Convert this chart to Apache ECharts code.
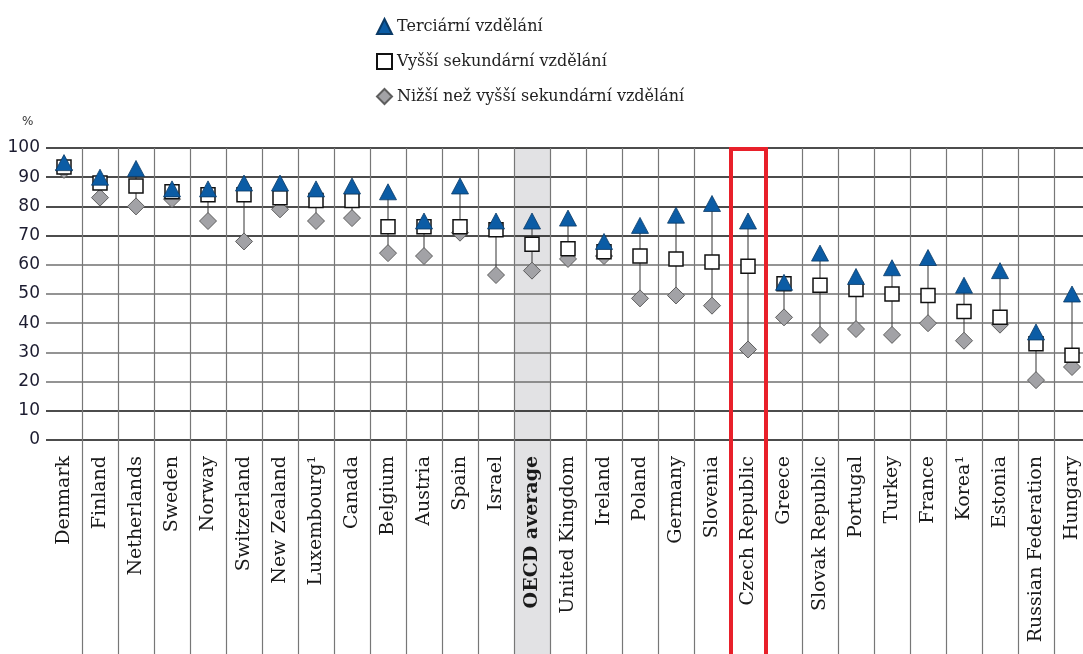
<!DOCTYPE html>
<html>
<head>
<meta charset="utf-8">
<script src="https://cdn.jsdelivr.net/npm/echarts@6/dist/echarts.min.js"></script>
<style>
html,body{margin:0;padding:0;background:#fff;overflow:hidden;width:1083px;height:654px;}
#chart{width:1090px;height:654px;}
</style>
</head>
<body>
<div id="chart"></div>
<script>
const categories = ['Denmark','Finland','Netherlands','Sweden','Norway','Switzerland','New Zealand','Luxembourg¹','Canada','Belgium','Austria','Spain','Israel','OECD average','United Kingdom','Ireland','Poland','Germany','Slovenia','Czech Republic','Greece','Slovak Republic','Portugal','Turkey','France','Korea¹','Estonia','Russian Federation','Hungary'];
const tertiary   = [95, 90, 93, 86, 86, 88, 88, 86, 87, 85, 75, 87, 75, 75, 76, 68, 73.5, 77, 81, 75, 54, 64, 56, 59, 62.5, 53, 58, 37, 50];
const upperSec   = [93.5, 88, 87, 85, 84, 84, 83, 82, 82, 73, 73, 73, 72, 67, 65.5, 64.5, 63, 62, 61, 59.5, 53.5, 53, 51.5, 50, 49.5, 44, 42, 33, 29];
const belowUpper = [92.5, 83, 80, 82.5, 75, 68, 79, 75, 76, 64, 63, 71, 56.5, 58, 62, 63, 48.5, 49.5, 46, 31, 42, 36, 38, 36, 40, 34, 39.5, 20.5, 25];
const yTicks = [0, 10, 20, 30, 40, 50, 60, 70, 80, 90, 100];
const seriesNames = ['Terciární vzdělání', 'Vyšší sekundární vzdělání', 'Nižší než vyšší sekundární vzdělání'];
const averageName = 'OECD average';
const highlightName = 'Czech Republic';

const avgIdx = categories.indexOf(averageName);
const hiIdx = categories.indexOf(highlightName);
const stems = categories.map((c, i) => {
  const vals = [tertiary[i], upperSec[i], belowUpper[i]];
  return [i, Math.max.apply(null, vals), Math.min.apply(null, vals)];
});

const chart = echarts.init(document.getElementById('chart'), null, {renderer: 'canvas'});
const gridLineColors = yTicks.map(v => (v <= 10 || v >= 70) ? '#111' : '#707070');
const skipFirst = function (i) { return i !== 0; };

chart.setOption({
  animation: false,
  backgroundColor: '#fff',
  title: {
    text: '%', left: 17, top: 111,
    textStyle: {fontSize: 12, fontWeight: 'normal', color: '#333', fontFamily: 'DejaVu Sans'}
  },
  legend: {
    orient: 'vertical', left: 371, top: 13, itemGap: 18,
    itemWidth: 15, itemHeight: 15,
    textStyle: {fontFamily: 'DejaVu Serif', fontSize: 16, color: '#222'},
    data: seriesNames
  },
  grid: {left: 46, top: 148, right: 0, height: 292, containLabel: false},
  xAxis: {
    type: 'category',
    data: categories.map(c => c === averageName ? {value: c, textStyle: {fontWeight: 'bold'}} : c),
    axisLine: {show: false},
    axisTick: {show: true, length: 220, interval: skipFirst, lineStyle: {color: '#777', width: 1.2}},
    splitLine: {show: true, interval: skipFirst, lineStyle: {color: '#777', width: 1.2}},
    axisLabel: {interval: 0, rotate: 90, margin: 16, fontFamily: 'DejaVu Serif', fontSize: 19, color: '#1a1a1a'}
  },
  yAxis: {
    type: 'value', min: 0, max: 100, interval: 10,
    axisLine: {show: false}, axisTick: {show: false},
    axisLabel: {margin: 6, fontFamily: 'DejaVu Sans', fontSize: 17, color: '#1c1c30'},
    splitLine: {show: true, lineStyle: {color: gridLineColors, width: 1.6}}
  },
  series: [
    {
      type: 'custom', z: -1, silent: true,
      data: [[avgIdx]],
      renderItem: function (params, api) {
        const p = api.coord([api.value(0), 100]);
        const w = api.size([1, 0])[0];
        return {type: 'rect', shape: {x: p[0] - w / 2, y: p[1], width: w, height: api.getHeight() - p[1]},
                style: {fill: '#e2e2e4'}};
      }
    },
    {
      type: 'custom', z: 2, silent: true,
      data: stems,
      renderItem: function (params, api) {
        const a = api.coord([api.value(0), api.value(1)]);
        const b = api.coord([api.value(0), api.value(2)]);
        return {type: 'line', shape: {x1: a[0], y1: a[1], x2: b[0], y2: b[1]},
                style: {stroke: '#333', lineWidth: 1}};
      }
    },
    {
      name: seriesNames[2], type: 'scatter', z: 3,
      symbol: 'diamond', symbolSize: [17, 17],
      itemStyle: {color: '#a2a2a6', borderColor: '#5e5e5e', borderWidth: 1, opacity: 1},
      data: belowUpper
    },
    {
      name: seriesNames[1], type: 'scatter', z: 4,
      symbol: 'rect', symbolSize: [14, 14],
      itemStyle: {color: '#ffffff', borderColor: '#111', borderWidth: 1.5, opacity: 1},
      data: upperSec
    },
    {
      name: seriesNames[0], type: 'scatter', z: 5,
      symbol: 'triangle', symbolSize: [17, 16],
      itemStyle: {color: '#0b5ca5', borderColor: '#0a3a66', borderWidth: 0.8, opacity: 1},
      data: tertiary
    },
    {
      type: 'custom', z: 10, silent: true,
      data: [[hiIdx]],
      renderItem: function (params, api) {
        const p = api.coord([api.value(0), 100]);
        const w = api.size([1, 0])[0];
        return {type: 'rect', shape: {x: p[0] - w / 2 + 1, y: p[1] + 1, width: w - 1, height: api.getHeight() - p[1] + 20},
                style: {fill: 'none', stroke: '#e8202a', lineWidth: 4}};
      }
    }
  ]
});
</script>
</body>
</html>
